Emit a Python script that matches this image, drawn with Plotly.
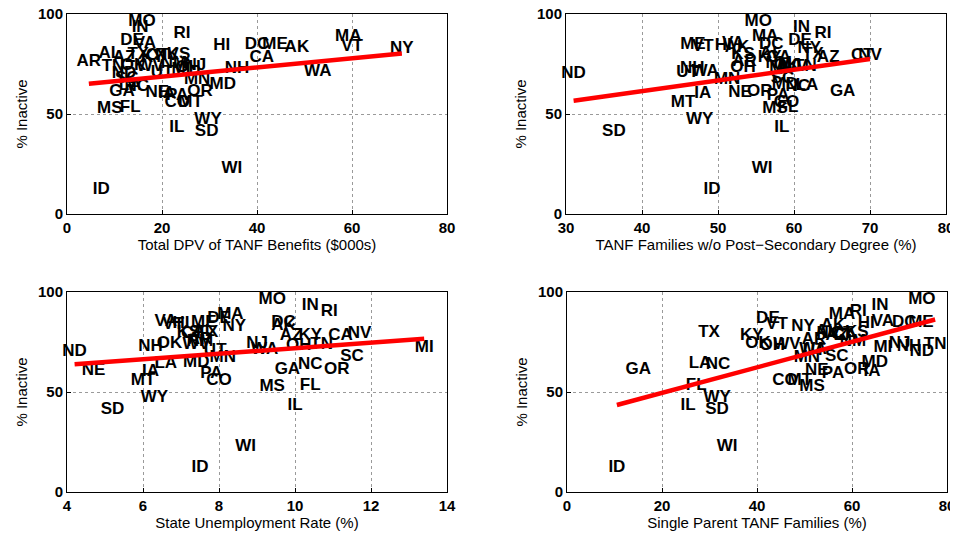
import numpy as np
import plotly.graph_objects as go

states = ["AL","AK","AZ","AR","CA","CO","CT","DE","DC","FL","GA","HI","ID","IL","IN","IA","KS","KY","LA","ME",
          "MD","MA","MI","MN","MS","MO","MT","NE","NV","NH","NJ","NM","NY","NC","ND","OH","OK","OR","PA","RI",
          "SC","SD","TN","TX","UT","VT","VA","WA","WV","WI","WY"]

inactive = [80, 83, 78, 76, 78, 55.5, 79, 86.5, 84.5, 53, 61, 84, 12, 43, 93, 60, 79.5, 78, 64, 84.5,
            64.5, 88.5, 72, 67, 52.5, 96, 55.5, 60.5, 79, 72.5, 74, 75, 82.5, 63.5, 70, 73, 74, 61, 59, 90,
            67.5, 41, 73.5, 79.5, 70.5, 83.5, 85, 71, 73.5, 22.5, 47]

dpv = [9, 48.4, 12, 4.6, 41, 23.2, 19, 13.7, 40, 13.3, 11.6, 32.6, 7.2, 23.1, 15.4, 21, 23.5, 18, 13.3, 43.8,
       32.8, 59.2, 24, 27.4, 9.0, 15.8, 26, 19, 21, 35.8, 27, 22.5, 70.5, 14.7, 12, 25.5, 14, 28, 23.2, 24.2,
       12.6, 29.4, 9.7, 15, 20, 60, 16.4, 52.8, 17.5, 34.7, 29.7]

no_postsec = [57, 52.5, 64.5, 53.5, 58, 59, 69, 60.8, 57, 59.2, 66.4, 50.7, 49.2, 58.4, 61, 48, 53.3, 56.8, 61.7, 46.7,
              58.8, 56.2, 58, 51.2, 57.5, 55.3, 45.4, 52.9, 70, 46.6, 59.5, 58, 62, 60.5, 31, 53.3, 59, 55.5, 57.9, 63.8,
              58.5, 36.3, 61.5, 62.5, 46, 48, 52, 48.3, 60, 55.8, 47.6]

unemp = [7.6, 9.7, 9.9, 7.5, 11.2, 8.0, 7.3, 8.0, 9.7, 10.4, 9.8, 7.0, 7.5, 10.0, 10.4, 6.2, 7.2, 10.4, 6.6, 7.6,
         7.4, 8.3, 13.4, 8.1, 9.4, 9.4, 6.0, 4.7, 11.7, 6.2, 9.0, 7.5, 8.4, 10.4, 4.2, 10.1, 6.7, 11.1, 7.8, 10.9,
         11.5, 5.2, 10.7, 7.7, 7.9, 6.8, 6.6, 9.2, 7.4, 8.7, 6.3]

single_parent = [54.7, 56, 56.8, 52, 58.5, 45.9, 57.9, 42.3, 71, 27.2, 15, 63, 10.5, 25.5, 65.9, 64.2, 61, 38.9, 28, 74.5,
                 64.8, 57.9, 66.5, 50.5, 51.6, 74.7, 49, 52.6, 55, 72, 70, 60.2, 49.7, 31.8, 74.7, 43.2, 40.2, 61, 56, 61.3,
                 56.8, 31.6, 77.5, 29.9, 52, 44.2, 66.5, 51.8, 46.3, 33.7, 31.6]

x_titles = ["Total DPV of TANF Benefits ($000s)", "TANF Families w/o Post\u2212Secondary Degree (%)",
            "State Unemployment Rate (%)", "Single Parent TANF Families (%)"]
x_ranges = [[0, 80], [30, 80], [4, 14], [0, 80]]
x_ticks = [[0, 20, 40, 60, 80], [30, 40, 50, 60, 70, 80], [4, 6, 8, 10, 12, 14], [0, 20, 40, 60, 80]]
y_ticks = [0, 50, 100]

OFF = 8  # page margin of the html body
W, H = 958 - OFF, 537 - OFF
boxes = [(67, 447, 14, 214), (566, 946, 14, 214), (67, 447, 292, 492), (567, 947, 292, 492)]
FONT = "Liberation Sans, Arial, Helvetica, sans-serif"

fig = go.Figure()
xs_all = [dpv, no_postsec, unemp, single_parent]
y = np.array(inactive, dtype=float)
layout = {}
for i, (xd, box) in enumerate(zip(xs_all, boxes)):
    n = "" if i == 0 else str(i + 1)
    x = np.array(xd, dtype=float)
    m, b = np.polyfit(x, y, 1)
    xl = np.array([x.min(), x.max()])
    fig.add_trace(go.Scatter(x=x, y=y, mode="text", text=states, textposition="middle center",
                             cliponaxis=False,
                             textfont=dict(family=FONT, size=17, color="black", weight="bold"),
                             xaxis="x" + n, yaxis="y" + n, showlegend=False, hoverinfo="skip"))
    fig.add_trace(go.Scatter(x=xl, y=m * xl + b, mode="lines", line=dict(color="red", width=4.5),
                             cliponaxis=False,
                             xaxis="x" + n, yaxis="y" + n, showlegend=False, hoverinfo="skip"))
    x0, x1, y0, y1 = [v - OFF for v in box]
    common = dict(showline=True, linecolor="black", linewidth=1, mirror=True, showgrid=True,
                  gridcolor="#9a9a9a", griddash="dot", gridwidth=1, zeroline=False, automargin=False,
                  ticks="inside", ticklen=4, tickcolor="black", ticklabeloverflow="allow",
                  tickfont=dict(family=FONT, size=15, color="black", weight="bold"))
    layout["xaxis" + n] = dict(common, domain=[x0 / W, x1 / W], range=x_ranges[i], tickvals=x_ticks[i],
                               anchor="y" + n,
                               title=dict(text=x_titles[i], standoff=0,
                                          font=dict(family=FONT, size=15, color="black")))
    layout["yaxis" + n] = dict(common, domain=[(H - y1) / H, (H - y0) / H], range=[0, 100], tickvals=y_ticks,
                               anchor="x" + n,
                               title=dict(text="% Inactive", standoff=6,
                                          font=dict(family=FONT, size=15, color="black")))

fig.update_layout(width=W, height=H, margin=dict(l=0, r=0, t=0, b=0, autoexpand=False), plot_bgcolor="white",
                  paper_bgcolor="white", **layout)
fig.write_html("out.html")
